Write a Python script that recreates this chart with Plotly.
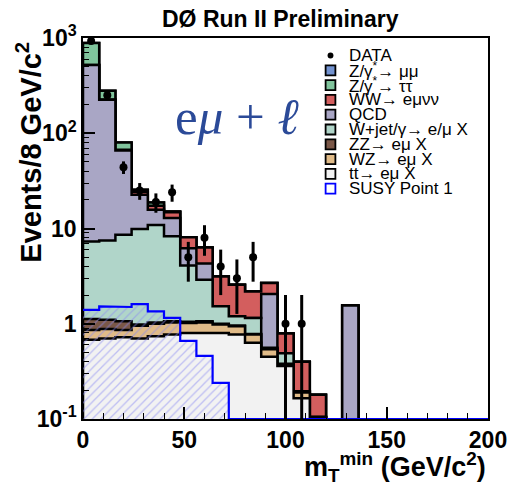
import numpy as np
import plotly.graph_objects as go

# ---------------- data (8 GeV bins from 0 to 200) ----------------
bin_edges = list(range(0, 201, 8))
tt   = [0.68, 0.70, 0.72, 0.70, 0.74, 0.77, 0.80, 0.80, 0.80, 0.77, 0.63, 0.45, 0.36, 0.165, 0.09, 0, 0, 0, 0, 0, 0, 0, 0, 0, 0]
wz   = [0.18, 0.18, 0.14, 0.25, 0.26, 0.26, 0.22, 0.23, 0.18, 0.17, 0.14, 0.09, 0.01, 0.025, 0.014, 0, 0, 0, 0, 0, 0, 0, 0, 0, 0]
zz   = [0.26, 0.22, 0.20, 0.03, 0.03, 0.03, 0.03, 0.03, 0.02, 0.02, 0.01, 0.01, 0.01, 0.005, 0.001, 0, 0, 0, 0, 0, 0, 0, 0, 0, 0]
wjet = [6.18, 6.40, 7.54, 8.92, 9.87, 7.24, 3.05, 1.84, 0.53, 0.24, 0.37, 0.01, 0.11, 0, 0, 0, 0, 0, 0, 0, 0, 0, 0, 0, 0]
qcd  = [512.7, 217.5, 57.4, 12.7, 4.8, 4.6, 2.1, 1.4, 0, 0, 0, 1.49, 0, 0, 0, 0, 1.55, 0, 0, 0, 0, 0, 0, 0, 0]
ww   = [2.0, 1.0, 1.0, 1.7, 1.6, 1.9, 1.9, 2.0, 1.61, 1.37, 1.03, 0.62, 0.30, 0.205, 0.075, 0, 0, 0, 0, 0, 0, 0, 0, 0, 0]
ztt  = [363, 53, 13, 1.2, 1.5, 0.3, 0, 0, 0, 0, 0, 0, 0, 0, 0, 0, 0, 0, 0, 0, 0, 0, 0, 0, 0]
zmm  = [1.0, 0.4, 0.2, 0.05, 0, 0, 0, 0, 0, 0, 0, 0, 0, 0, 0, 0, 0, 0, 0, 0, 0, 0, 0, 0, 0]
susy = [1.40, 1.52, 1.50, 1.61, 1.35, 1.15, 0.66, 0.46, 0.24, 0, 0, 0, 0, 0, 0, 0, 0, 0, 0, 0, 0, 0, 0, 0, 0]
data = [930, 250, 44, 25, 19, 24, 5, 8, 4, 3, 5, 0, 1, 1, 0, 0, 0, 0, 0, 0, 0, 0, 0, 0, 0]

legend_labels = ["DATA", "Z/γ<sup>*</sup>→ μμ", "Z/γ<sup>*</sup>→ ττ", "WW→ eμνν", "QCD",
                 "W+jet/γ→ e/μ X", "ZZ→ eμ X", "WZ→ eμ X", "tt→ eμ X", "SUSY Point 1"]
y_tickvals = [0.1, 1, 10, 100, 1000]
y_ticktext = ["10<sup>-1</sup>", "1", "10", "10<sup>2</sup>", "10<sup>3</sup>"]
x_tickvals = [0, 50, 100, 150, 200]

# ---------------- styles ----------------
col = {"zmm": "#7393d0", "ztt": "#80c49c", "ww": "#d35e5e", "qcd": "#a9a6c5",
       "wjet": "#b0d5c9", "zz": "#7a5747", "wz": "#e0bb88", "tt": "#f2f2f2"}
FONT = "Liberation Sans"
W, H = 519, 486
L, R, T, B = 83, 22, 38, 67
PW, PH = W - L - R, H - T - B


def px(x):
    return (x - L) / PW


def py(y):
    return (H - B - y) / PH


FLOOR = 1e-3
nb = len(bin_edges) - 1


def step_poly(vals, floor=FLOOR):
    xs, ys = [bin_edges[0]], [floor]
    for i in range(nb):
        v = max(vals[i], floor)
        xs += [bin_edges[i], bin_edges[i + 1]]
        ys += [v, v]
    xs += [bin_edges[-1], bin_edges[0]]
    ys += [floor, floor]
    return xs, ys


fig = go.Figure()

# stacked layers (bottom -> top), drawn from the tallest cumulative down
stack = [("tt", tt), ("wz", wz), ("zz", zz), ("wjet", wjet), ("qcd", qcd),
         ("ww", ww), ("ztt", ztt), ("zmm", zmm)]
cum = np.cumsum(np.array([s[1] for s in stack], dtype=float), axis=0)
for k in range(len(stack) - 1, -1, -1):
    xs, ys = step_poly(cum[k])
    fig.add_trace(go.Scatter(x=xs, y=ys, mode="lines", fill="toself",
                             fillcolor=col[stack[k][0]],
                             line=dict(color="black", width=2.5),
                             showlegend=False, hoverinfo="skip"))

# SUSY hatched overlay
xs, ys = step_poly(susy)
fig.add_trace(go.Scatter(x=xs, y=ys, mode="lines", fill="toself",
                         fillcolor="rgba(0,0,0,0)",
                         fillpattern=dict(shape="/", fgcolor="#8a8af2", bgcolor="rgba(0,0,0,0)",
                                          size=6, solidity=0.22),
                         line=dict(width=0), showlegend=False, hoverinfo="skip"))
sx, sy = [], []
for i in range(nb):
    v = max(susy[i], 0.1)
    sx += [bin_edges[i], bin_edges[i + 1]]
    sy += [v, v]
fig.add_trace(go.Scatter(x=sx, y=sy, mode="lines", line=dict(color="#0000ff", width=2.2),
                         showlegend=False, hoverinfo="skip"))

# data points
centers = [(bin_edges[i] + bin_edges[i + 1]) / 2 for i in range(nb)]
dx = [centers[i] for i in range(nb) if data[i] > 0]
dy = [data[i] for i in range(nb) if data[i] > 0]
err = [np.sqrt(v) for v in dy]
errm = [min(np.sqrt(v), v * 0.999) for v in dy]
fig.add_trace(go.Scatter(x=dx, y=dy, mode="markers",
                         marker=dict(color="black", size=8),
                         error_y=dict(type="data", array=err, arrayminus=errm,
                                      color="black", thickness=3, width=0),
                         showlegend=False, hoverinfo="skip"))

# ---------------- manual legend ----------------
ann = []
shapes = []
leg_colors = [None, col["zmm"], col["ztt"], col["ww"], col["qcd"], col["wjet"],
              col["zz"], col["wz"], col["tt"], "white"]
y0 = 55.5
dyp = 14.8
for i, lab in enumerate(legend_labels):
    cy = y0 + i * dyp
    ann.append(dict(text=lab, x=px(354), y=py(cy), xref="paper", yref="paper",
                    xanchor="left", yanchor="middle", showarrow=False, borderpad=0,
                    font=dict(family=FONT, size=17, color="black")))
    if i == 0:
        shapes.append(dict(type="circle", xref="paper", yref="paper",
                           x0=px(333), x1=px(339), y0=py(cy + 3), y1=py(cy - 3),
                           fillcolor="black", line=dict(color="black", width=0)))
    else:
        lc = "#0000ff" if lab.startswith("SUSY") else "black"
        shapes.append(dict(type="rect", xref="paper", yref="paper",
                           x0=px(331), x1=px(341), y0=py(cy + 5), y1=py(cy - 5),
                           fillcolor=leg_colors[i], line=dict(color=lc, width=1.8)))

ann.append(dict(text="<b>DØ Run II Preliminary</b>", x=px(285), y=py(19),
                xref="paper", yref="paper", xanchor="center", yanchor="middle",
                showarrow=False, font=dict(family=FONT, size=23, color="black")))
ann.append(dict(text="e<i>μ</i> + <i>ℓ</i>", x=px(240), y=py(117),
                xref="paper", yref="paper", xanchor="center", yanchor="middle",
                showarrow=False, font=dict(family="Liberation Serif", size=51, color="#2b4a98")))
ann.append(dict(text="<b>Events/8 GeV/c<sup>2</sup></b>", x=px(27), y=py(41),
                xref="paper", yref="paper", xanchor="center", yanchor="top", textangle=-90,
                showarrow=False, borderpad=0, font=dict(family=FONT, size=29, color="black")))
ann.append(dict(text="<b>m<sub>T</sub><sup>min</sup> (GeV/c<sup>2</sup>)</b>", x=px(496), y=py(467),
                xref="paper", yref="paper", xanchor="right", yanchor="middle", borderpad=0,
                showarrow=False, font=dict(family=FONT, size=27, color="black")))

x_minor = [v for v in range(10, 200, 10) if v % 50 != 0]
y_minor = [m * 10.0 ** e for e in range(-1, 3) for m in range(2, 10)]

fig.update_layout(
    width=W, height=H,
    margin=dict(l=L, r=R, t=T, b=B),
    paper_bgcolor="white", plot_bgcolor="white",
    showlegend=False,
    annotations=ann, shapes=shapes,
    xaxis=dict(range=[0, 200], showgrid=False, zeroline=False,
               showline=True, linecolor="black", linewidth=1.5, mirror=True,
               ticks="inside", ticklen=12, tickwidth=1.5, tickcolor="black",
               tickmode="array", tickvals=x_tickvals,
               minor=dict(tickmode="array", tickvals=x_minor, ticks="inside",
                          ticklen=6, tickwidth=1.2, tickcolor="black", showgrid=False),
               tickfont=dict(family=FONT, size=23, color="black", weight="bold"),
               layer="above traces"),
    yaxis=dict(type="log", range=[-1, 3], showgrid=False, zeroline=False,
               showline=True, linecolor="black", linewidth=1.5, mirror=True,
               ticks="inside", ticklen=12, tickwidth=1.5, tickcolor="black",
               tickmode="array", tickvals=y_tickvals, ticktext=y_ticktext,
               minor=dict(tickmode="array", tickvals=y_minor, ticks="inside",
                          ticklen=6, tickwidth=1.2, tickcolor="black", showgrid=False),
               tickfont=dict(family=FONT, size=23, color="black", weight="bold"),
               layer="above traces"),
)

fig.write_html("out.html")
